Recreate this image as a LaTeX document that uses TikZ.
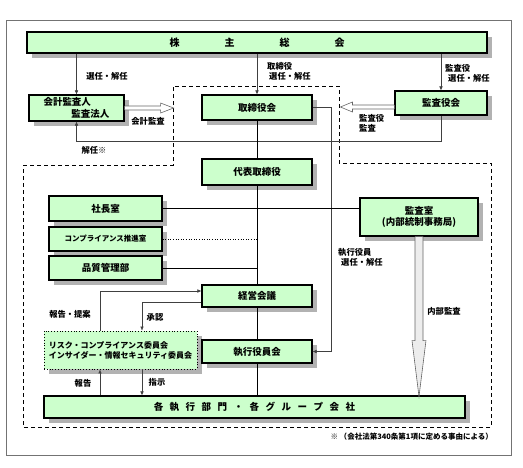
\documentclass[tikz,border=0pt]{standalone}
\usepackage{fontspec}
\setmainfont{Noto Sans CJK JP}
\usetikzlibrary{arrows.meta,shadows}

\definecolor{boxgreen}{RGB}{204,255,204}
\definecolor{shadowgray}{RGB}{178,178,178}

\begin{document}
\begin{tikzpicture}[x=1pt,y=-1pt,
  font=\fontsize{9.5}{11.5}\selectfont\bfseries,
  box/.style={draw,line width=1.1pt,fill=boxgreen,inner sep=1pt,align=center,
    general shadow={fill=shadowgray,shadow xshift=5pt,shadow yshift=-5pt}},
  lab/.style={font=\fontsize{8.3}{9.8}\selectfont\bfseries,align=left,inner sep=0pt},
  ln/.style={line width=0.5pt,draw=black!75},
  spine/.style={line width=0.9pt},
  ar/.style={ln,-{Latex[length=4pt,width=3.5pt]}},
  hollow/.style={draw=black!60,fill=white,line width=0.6pt,line join=miter}]

 \useasboundingbox (0,0) rectangle (523,467);
 \draw[black!55,line width=0.6pt] (6,20) rectangle (511,455);

 % ---- dashed area ----
 \draw[dash pattern=on 4pt off 3pt,line width=0.9pt]
   (23,165) -- (173,165) -- (173,86) -- (339,86) -- (339,163)
   -- (491,163) -- (491,427) -- (23,427) -- cycle;

 % ---- boxes ----
 \node[box,minimum width=460pt,minimum height=21pt,font=\fontsize{10}{12}\selectfont\bfseries]
   (kabu) at (257,42.5) {株\hspace{45pt}主\hspace{45pt}総\hspace{45pt}会};
 \node[box,minimum width=95pt,minimum height=26pt,align=left] (kaikei) at (76.5,108)
   {会計監査人\\\hspace{28pt}監査法人\hspace{6pt}};
 \node[box,minimum width=110pt,minimum height=25pt] (tori) at (257,107.5) {取締役会};
 \node[box,minimum width=92pt,minimum height=24pt] (kansa) at (441,103) {監査役会};
 \node[box,minimum width=110pt,minimum height=26pt] (daihyo) at (257,172) {代表取締役};
 \node[box,minimum width=113pt,minimum height=25pt] (shacho) at (105.5,208.5) {社長室};
 \node[box,minimum width=113pt,minimum height=24pt,font=\fontsize{7.5}{9}\selectfont\bfseries]
   (comp) at (105.5,239) {コンプライアンス推進室};
 \node[box,minimum width=113pt,minimum height=24pt] (hinshitsu) at (105.5,268) {品質管理部};
 \node[box,minimum width=118pt,minimum height=38pt] (kansashitsu) at (419,217)
   {監査室\\(内部統制事務局)};
 \node[box,minimum width=110pt,minimum height=22pt] (keiei) at (257,296) {経営会議};
 \node[box,line width=0.8pt,dotted,minimum width=153pt,minimum height=38pt,align=left,
   font=\fontsize{8}{10}\selectfont\bfseries] (risk) at (120.5,350)
   {リスク・コンプライアンス委員会\\インサイダー・情報セキュリティ委員会};
 \node[box,minimum width=110pt,minimum height=23pt] (shikko) at (257,351.5) {執行役員会};
 \node[box,minimum width=421pt,minimum height=22pt] (kaku) at (254.5,407)
   {各\hspace{6.5pt}執\hspace{6.5pt}行\hspace{6.5pt}部\hspace{6.5pt}門\hspace{6.5pt}・\hspace{6.5pt}各\hspace{6.5pt}グ\hspace{6.5pt}ル\hspace{6.5pt}ー\hspace{6.5pt}プ\hspace{6.5pt}会\hspace{6.5pt}社};

 % ---- appointment lines ----
 \draw[ar] (kaikei.north |- kabu.south) -- (kaikei.north);
 \draw[ar] (tori.north |- kabu.south) -- (tori.north);
 \draw[ar] (kansa.north |- kabu.south) -- (kansa.north);
 \draw[ar] (kansa.south) -- ++(0,26) -| (kaikei.south);
 \draw[ar] (tori.east) -- ++(19,0) |- (shikko.east);

 % ---- audit arrows ----
 \draw[hollow] ([yshift=2pt]kaikei.east) -- ++(36,0) -- ++(0,-3) -- ++(13,5)
   -- ++(-13,5) -- ++(0,-3) -- ([yshift=-2pt]kaikei.east);
 \draw[hollow] ([yshift=-2pt]kansa.west) -- ++(-42,0) -- ++(0,-3) -- ++(-12,5)
   -- ++(12,5) -- ++(0,-3) -- ([yshift=-6pt]kansa.west);
 \draw[hollow,fill=black!7] ([xshift=-4pt]kansashitsu.south) -- ++(0,104) -- ++(-3,0)
   -- ++(7,56) -- ++(7,-56) -- ++(-3,0) -- ([xshift=4pt]kansashitsu.south);

 % ---- main line ----
 \draw[spine] (tori) -- (daihyo);
 \draw[spine] (daihyo) -- (keiei);
 \draw[spine] (keiei) -- (shikko);
 \draw[spine] (shikko.south) -- (shikko.south |- kaku.north);
 \draw[spine] (shacho.east) -- (shacho.east -| kansashitsu.west);
 \draw[spine,line width=0.6pt,dotted] (comp.east) -- (comp.east -| daihyo.south);
 \draw[spine] (hinshitsu.east) -- (hinshitsu.east -| daihyo.south);

 % ---- committee ----
 \draw[ar] ([xshift=-20.5pt]risk.north) |- ([yshift=5pt]keiei.west);
 \draw[ar] ([yshift=-6pt]keiei.west) -| ([xshift=21.5pt]risk.north);
 \draw[ar] ([xshift=-20.5pt]risk.south |- kaku.north) -- ([xshift=-20.5pt]risk.south);
 \draw[ar] ([xshift=21.5pt]risk.south) -- ([xshift=21.5pt]risk.south |- kaku.north);

 % ---- labels ----
 \node[lab] (l-kaikei) at (107,76) {選任・解任};
 \node[lab,anchor=west] (l-tori) at (267,71) {取締役\\\hspace{2pt}選任・解任};
 \node[lab,anchor=west] (l-kansa) at (445,73) {監査役\\\hspace{3pt}選任・解任};
 \node[lab] (l-audit) at (148,121) {会計監査};
 \node[lab,anchor=west] (l-kansaaudit) at (359,123) {監査役\\監査};
 \node[lab] (l-kainin) at (94,150) {解任※};
 \node[lab,anchor=west] (l-shikko) at (338,257) {執行役員\\\hspace{3pt}選任・解任};
 \node[lab] (l-naibu) at (444,311) {内部監査};
 \node[lab] (l-teian) at (70,314) {報告・提案};
 \node[lab] (l-shonin) at (155,317) {承認};
 \node[lab] (l-hokoku) at (83,383) {報告};
 \node[lab] (l-shiji) at (157,382) {指示};
 \node[lab,anchor=east,font=\fontsize{7.5}{9}\selectfont\bfseries] (note) at (493,437)
   {※ （会社法第340条第1項に定める事由による）};
\end{tikzpicture}
\end{document}
